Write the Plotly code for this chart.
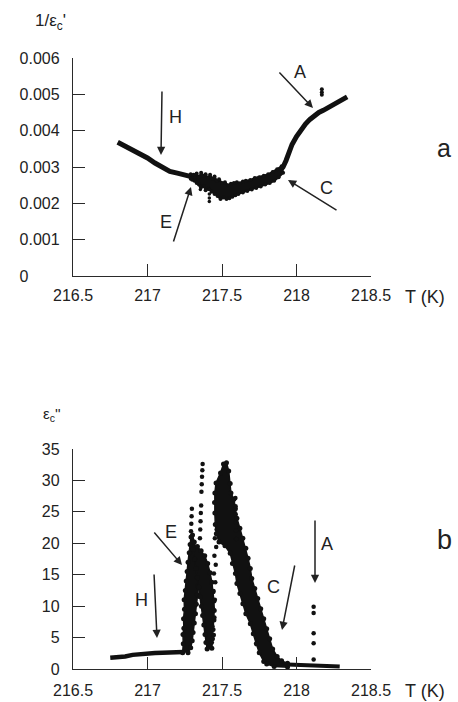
import plotly.graph_objects as go

W, H = 458, 702

# ---------------- data: panel a (1/eps_c') ----------------
T_a1 = [216.80, 216.85, 216.90, 216.95, 217.00, 217.05, 217.10, 217.15, 217.20, 217.25, 217.30]
inv_a1 = [0.00368, 0.00358, 0.00347, 0.00337, 0.00325, 0.00311, 0.00298, 0.00288, 0.00283, 0.00279, 0.00273]

# noisy region: upper envelope (left->right) then lower envelope (right->left)
T_a_band = [217.29, 217.31, 217.32, 217.33, 217.345, 217.36, 217.375, 217.39, 217.405, 217.42,
            217.435, 217.45, 217.465, 217.48, 217.50, 217.52, 217.54, 217.56, 217.58, 217.60,
            217.62, 217.64, 217.66, 217.69, 217.72, 217.75, 217.78, 217.81, 217.84, 217.87, 217.90,
            217.91, 217.88, 217.85, 217.82, 217.79, 217.76, 217.73, 217.70, 217.67, 217.64,
            217.61, 217.59, 217.57, 217.55, 217.53, 217.51, 217.49, 217.47, 217.45, 217.43,
            217.41, 217.39, 217.375, 217.36, 217.345, 217.33, 217.315, 217.30, 217.29]
inv_a_band = [0.00280, 0.00279, 0.00270, 0.00282, 0.00272, 0.00284, 0.00276, 0.00280, 0.00270, 0.00279,
              0.00268, 0.00274, 0.00262, 0.00266, 0.00256, 0.00258, 0.00250, 0.00254, 0.00256, 0.00258,
              0.00255, 0.00260, 0.00262, 0.00264, 0.00270, 0.00272, 0.00276, 0.00280, 0.00286, 0.00294, 0.00302,
              0.00284, 0.00272, 0.00262, 0.00256, 0.00252, 0.00246, 0.00242, 0.00238, 0.00234, 0.00230,
              0.00226, 0.00222, 0.00218, 0.00214, 0.00212, 0.00216, 0.00212, 0.00220, 0.00226, 0.00232,
              0.00240, 0.00236, 0.00248, 0.00244, 0.00252, 0.00256, 0.00262, 0.00265, 0.00268]

T_a2 = [217.89, 217.91, 217.93, 217.95, 217.97, 218.00, 218.03, 218.06, 218.09, 218.12,
        218.15, 218.18, 218.21, 218.24, 218.27, 218.30, 218.34]
inv_a2 = [0.00290, 0.00300, 0.00318, 0.00340, 0.00362, 0.00384, 0.00402, 0.00418, 0.00431, 0.00442,
          0.00450, 0.00456, 0.00463, 0.00469, 0.00474, 0.00482, 0.00493]

T_a_spike = [217.355, 217.355, 217.415, 217.415, 217.415, 217.415]
inv_a_spike = [0.00246, 0.00238, 0.00238, 0.00226, 0.00215, 0.00205]
T_a_out = [218.17, 218.17, 218.17]
inv_a_out = [0.00514, 0.00506, 0.00499]

# ---------------- data: panel b (eps_c'') ----------------
T_h = [216.75, 216.80, 216.85, 216.90, 216.95, 217.00, 217.05, 217.10, 217.15, 217.20, 217.24]
e_h = [1.8, 1.85, 2.0, 2.25, 2.4, 2.5, 2.55, 2.6, 2.6, 2.65, 2.7]

# left rising band (outline: left edge up, right edge down)
T_L = [217.236, 217.240, 217.238, 217.244, 217.242, 217.248, 217.246, 217.254, 217.260, 217.266,
       217.272, 217.280, 217.286, 217.292, 217.302,
       217.314, 217.330, 217.346, 217.356, 217.350, 217.340, 217.334, 217.328, 217.322, 217.314,
       217.306, 217.300, 217.290, 217.272]
e_L = [2.6, 4.0, 5.5, 6.5, 8.0, 9.5, 11.0, 12.5, 14.0, 15.5,
       17.0, 18.5, 19.8, 21.0, 21.3,
       20.2, 18.8, 17.2, 15.8, 14.5, 13.2, 11.8, 10.3, 8.8, 7.3,
       5.8, 4.5, 3.4, 2.6]

# sparse dots above the left peak
T_s = [217.292, 217.294, 217.296, 217.298, 217.352, 217.354, 217.356, 217.358, 217.360, 217.362,
       217.364, 217.366, 217.368, 217.370]
e_s = [21.9, 23.1, 24.3, 25.5, 20.8, 22.2, 23.5, 24.8, 26.0, 28.2,
       29.4, 30.6, 31.6, 32.6]

# middle descending band (outline)
T_M = [217.305, 217.316, 217.326, 217.334, 217.344, 217.352, 217.362, 217.370, 217.378, 217.386,
       217.392, 217.400,
       217.432, 217.436, 217.440, 217.446, 217.448, 217.446, 217.440, 217.432, 217.420, 217.404,
       217.384, 217.360, 217.335]
e_M = [19.0, 17.5, 16.0, 14.5, 13.0, 11.5, 10.0, 8.5, 7.0, 5.5,
       4.2, 3.2,
       3.3, 4.8, 6.3, 7.8, 9.3, 10.8, 12.3, 13.8, 15.3, 16.8,
       18.0, 18.8, 19.5]

# sparse rising dots between the peaks
T_R1 = [217.432, 217.445, 217.436, 217.449, 217.440, 217.452, 217.443, 217.455, 217.446, 217.458,
        217.449, 217.461, 217.452, 217.464]
e_R1 = [4.2, 5.4, 6.8, 8.2, 9.6, 11.0, 12.4, 13.8, 15.2, 16.6,
        18.0, 19.4, 20.8, 22.2]

# right peak and its descending band (outline)
T_P = [217.780, 217.750, 217.730, 217.710, 217.690, 217.660, 217.640, 217.620, 217.600, 217.590,
       217.570, 217.555, 217.520, 217.480, 217.462, 217.455, 217.452, 217.450, 217.452, 217.460,
       217.490, 217.510, 217.530, 217.545, 217.555, 217.560, 217.580, 217.590, 217.600, 217.620,
       217.640, 217.660, 217.675, 217.690, 217.700, 217.720, 217.740, 217.760, 217.780, 217.800,
       217.820, 217.840, 217.870, 217.900, 217.940, 217.940, 217.850, 217.800]
e_P = [1.2, 2.6, 4.0, 5.6, 7.2, 8.8, 10.4, 12.0, 13.6, 15.2,
       16.8, 18.4, 19.6, 20.2, 21.5, 23.0, 24.8, 26.5, 28.0, 29.6,
       31.2, 32.6, 32.8, 31.5, 29.5, 28.0, 27.0, 25.5, 24.0, 22.4,
       20.8, 19.2, 17.6, 16.0, 14.4, 12.8, 11.2, 9.6, 8.0, 6.4,
       4.8, 3.2, 2.0, 1.3, 0.9, 0.3, 0.4, 0.8]

T_dc = [217.590, 217.591, 217.592, 217.593, 217.594, 217.595]
e_dc = [27.2, 25.9, 24.6, 23.3, 22.0, 20.7]

T_t = [217.94, 218.00, 218.05, 218.10, 218.15, 218.20, 218.25, 218.29]
e_t = [0.7, 0.65, 0.6, 0.6, 0.55, 0.5, 0.5, 0.4]

T_A = [218.115, 218.115, 218.115, 218.115, 218.115]
e_A = [9.9, 8.9, 5.7, 4.1, 1.5]

x_ticks = [216.5, 217, 217.5, 218, 218.5]
x_ticktext = ["216.5", "217", "217.5", "218", "218.5"]
ya_ticks = [0, 0.001, 0.002, 0.003, 0.004, 0.005, 0.006]
ya_ticktext = ["0" + "\u00a0" * 7, "0.001", "0.002", "0.003", "0.004", "0.005", "0.006"]
yb_ticks = [0, 5, 10, 15, 20, 25, 30, 35]
yb_ticktext = ["0", "5", "10", "15", "20", "25", "30", "35"]

# ---------------- figure ----------------
INK = "#111111"
AX = "#2a2a2a"
FONT = "Liberation Sans, Arial, sans-serif"

fig = go.Figure()

def add(x, y, axis, mode, lw=0, ms=0, fill=None):
    kw = dict(x=x, y=y, mode=mode, showlegend=False, hoverinfo="skip",
              xaxis="x" if axis == 1 else "x2", yaxis="y" if axis == 1 else "y2")
    if "lines" in mode:
        kw["line"] = dict(color=INK, width=lw)
    if "markers" in mode:
        kw["marker"] = dict(color=INK, size=ms)
    if fill:
        kw["fill"] = fill
        kw["fillcolor"] = INK
    fig.add_trace(go.Scatter(**kw))

# panel a
add(T_a1, inv_a1, 1, "lines", lw=5)
add(T_a_band, inv_a_band, 1, "lines+markers", lw=2, ms=4, fill="toself")
add(T_a2, inv_a2, 1, "lines", lw=5)
add(T_a_spike, inv_a_spike, 1, "markers", ms=3.5)
add(T_a_out, inv_a_out, 1, "markers", ms=4)

# panel b
add(T_h, e_h, 2, "lines", lw=4.5)
add(T_L, e_L, 2, "lines+markers", lw=1.5, ms=5, fill="toself")
add(T_s, e_s, 2, "markers", ms=4.5)
add(T_M, e_M, 2, "lines+markers", lw=1.5, ms=5, fill="toself")
add(T_R1, e_R1, 2, "markers", ms=4.5)
add(T_P, e_P, 2, "lines+markers", lw=1.5, ms=5, fill="toself")
add(T_dc, e_dc, 2, "markers", ms=4.5)
add(T_t, e_t, 2, "lines", lw=4)
add(T_A, e_A, 2, "markers", ms=4.5)

xdom = [73 / W, 371 / W]
common_x = dict(range=[216.5, 218.5], domain=xdom, showline=True, linecolor=AX, linewidth=1.4,
                ticks="inside", ticklen=12, tickwidth=1.3, tickcolor=AX, automargin=False,
                tickvals=x_ticks, ticktext=x_ticktext, showgrid=False, zeroline=False,
                tickfont=dict(family=FONT, size=16, color="#222"), fixedrange=True)
common_y = dict(showline=True, linecolor=AX, linewidth=1.4, automargin=False,
                ticks="inside", ticklen=12, tickwidth=1.3, tickcolor=AX,
                showgrid=False, zeroline=False,
                tickfont=dict(family=FONT, size=16, color="#222"), fixedrange=True)

fig.update_layout(
    width=W, height=H, margin=dict(l=0, r=0, t=0, b=0, autoexpand=False),
    paper_bgcolor="white", plot_bgcolor="white",
    xaxis=dict(anchor="y", ticklabelstandoff=5, **common_x),
    yaxis=dict(anchor="x", domain=[1 - 276 / H, 1 - 58 / H], range=[0, 0.006],
               tickvals=ya_ticks, ticktext=ya_ticktext, ticklabelstandoff=9, **common_y),
    xaxis2=dict(anchor="y2", ticklabelstandoff=7, **common_x),
    yaxis2=dict(anchor="x2", domain=[1 - 669 / H, 1 - 449 / H], range=[0, 35],
                tickvals=yb_ticks, ticktext=yb_ticktext, ticklabelstandoff=9, **common_y),
)

def P(px, py):
    return px / W, 1 - py / H

def text(px, py, s, size, xanchor="center"):
    x, y = P(px, py)
    fig.add_annotation(x=x, y=y, xref="paper", yref="paper", text=s, showarrow=False,
                       xanchor=xanchor, yanchor="middle",
                       font=dict(family=FONT, size=size, color="#222"))

def arrow(tail, head):
    x, y = P(*head)
    fig.add_annotation(x=x, y=y, xref="paper", yref="paper", text="", showarrow=True,
                       ax=tail[0] - head[0], ay=tail[1] - head[1], axref="pixel", ayref="pixel",
                       arrowhead=2, arrowsize=1.1, arrowwidth=1.5, arrowcolor="#222", standoff=0)

# axis titles & panel letters
text(50, 22, "1/ε<sub>c</sub>'", 17)
text(52, 414, "ε<sub>c</sub>''", 15)
text(425, 297, "T (K)", 18)
text(425, 691, "T (K)", 18)
text(444, 148, "a", 25)
text(444, 540, "b", 27)

# panel a arrows
arrow((162, 90), (161, 155)); text(175, 117, "H", 18)
arrow((173, 243), (191, 187)); text(166, 222, "E", 18)
arrow((278, 71), (313, 108)); text(300, 72, "A", 18)
arrow((338, 211), (288, 180)); text(326, 188, "C", 18)

# panel b arrows
arrow((153, 531), (182, 565)); text(171, 532, "E", 18)
arrow((154, 573), (157, 638)); text(141, 600, "H", 18)
arrow((295, 564), (282, 630)); text(273, 587, "C", 18)
arrow((315, 519), (315, 583)); text(327, 544, "A", 18)

fig.write_html("out.html")
